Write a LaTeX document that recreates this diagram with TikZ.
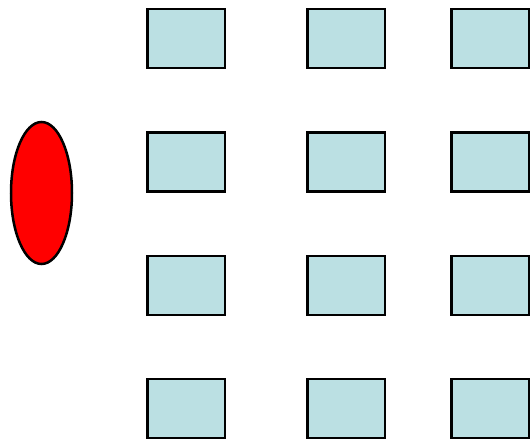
\documentclass[tikz,border=0pt]{standalone}
\usetikzlibrary{shapes.geometric}
\definecolor{boxblue}{RGB}{187,224,227}
\definecolor{ovalred}{RGB}{255,0,0}
\begin{document}
\begin{tikzpicture}[x=1pt,y=-1pt,
  cell/.style={draw=black,line width=2.5pt,fill=boxblue,minimum width=77.5pt,minimum height=59pt,inner sep=0pt,outer sep=0pt},
  oval/.style={ellipse,draw=black,line width=2.5pt,fill=ovalred,minimum width=61pt,minimum height=142pt,inner sep=0pt}]
\useasboundingbox (0,0) rectangle (531,442);
\node[oval] (e) at (41.5,193) {};
\foreach \c/\x in {1/186,2/346,3/490}{
  \foreach \r/\y in {1/38.5,2/162,3/285.5,4/408.5}{
    \node[cell] (b\r\c) at (\x,\y) {};
  }
}
\end{tikzpicture}
\end{document}
